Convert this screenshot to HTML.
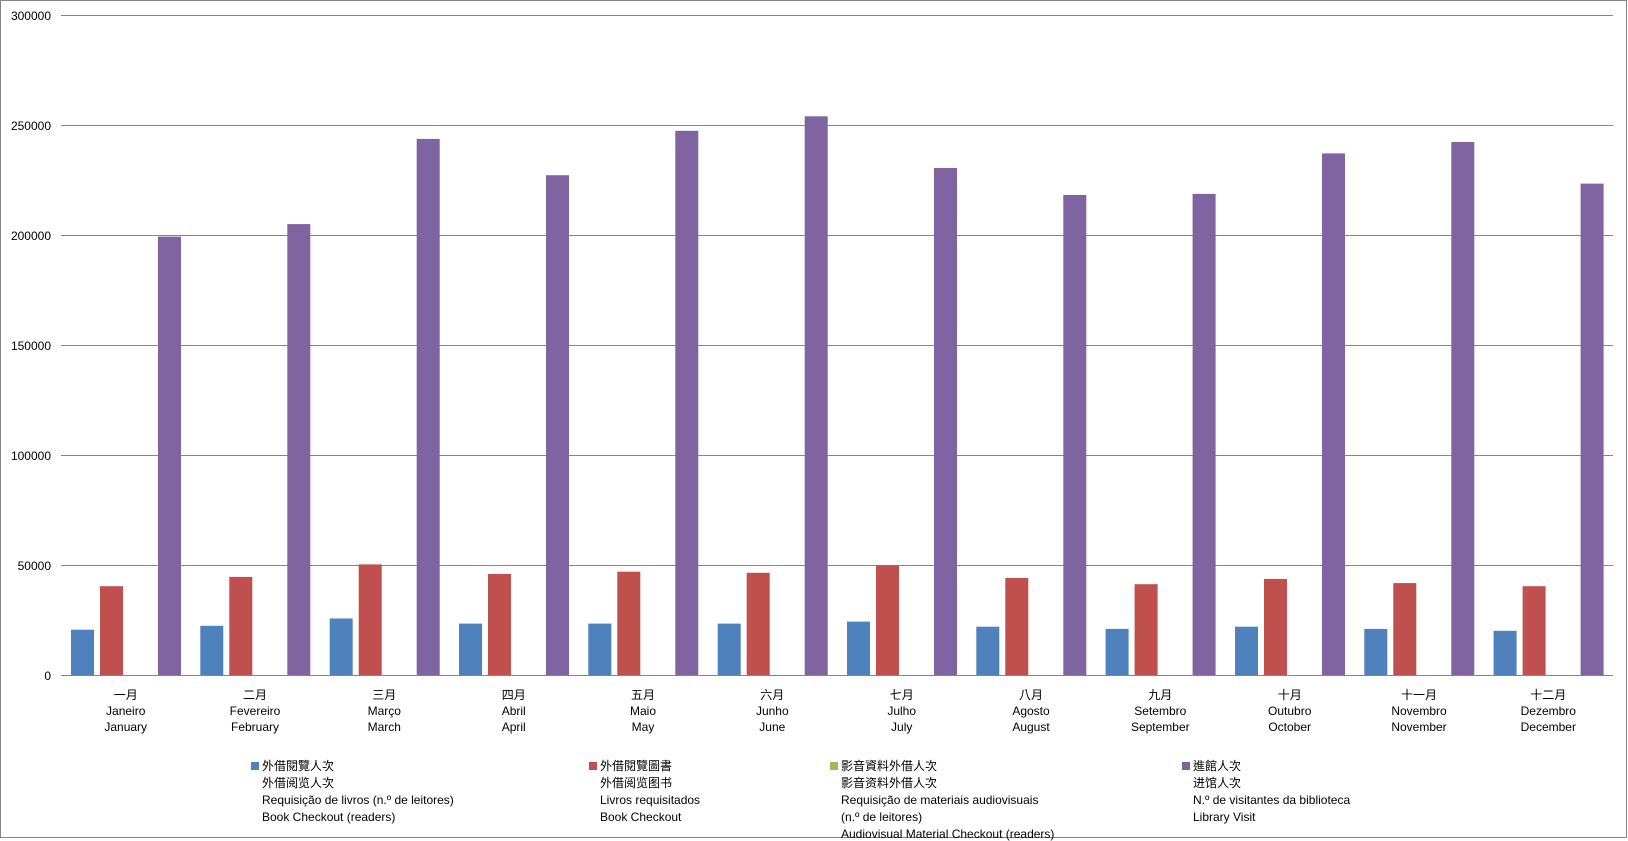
<!DOCTYPE html>
<html><head><meta charset="utf-8"><style>
html,body{margin:0;padding:0;background:#fff;}
svg{display:block;font-family:"Liberation Sans","Noto Sans CJK TC",sans-serif;}
</style></head><body>
<svg id="c" width="1628" height="841" xmlns="http://www.w3.org/2000/svg">
<rect x="0.5" y="0.5" width="1626" height="837" fill="#fff" stroke="#868686"/>
<g stroke="#868686" stroke-width="1">
<line x1="61" y1="15.5" x2="1613" y2="15.5"/>
<line x1="61" y1="125.5" x2="1613" y2="125.5"/>
<line x1="61" y1="235.5" x2="1613" y2="235.5"/>
<line x1="61" y1="345.5" x2="1613" y2="345.5"/>
<line x1="61" y1="455.5" x2="1613" y2="455.5"/>
<line x1="61" y1="565.5" x2="1613" y2="565.5"/>
</g>
<g font-size="12" fill="#000" text-anchor="end">
<text x="51" y="20">300000</text>
<text x="51" y="130">250000</text>
<text x="51" y="240">200000</text>
<text x="51" y="350">150000</text>
<text x="51" y="460">100000</text>
<text x="51" y="570">50000</text>
<text x="51" y="680">0</text>
</g>
<g id="bars"></g>
<line x1="61" y1="675.5" x2="1613" y2="675.5" stroke="#868686"/>
<g font-size="12" fill="#000" text-anchor="middle">
<text x="125.7" y="699">一月</text><text x="125.7" y="715">Janeiro</text><text x="125.7" y="731">January</text>
<text x="255" y="699">二月</text><text x="255" y="715">Fevereiro</text><text x="255" y="731">February</text>
<text x="384.3" y="699">三月</text><text x="384.3" y="715">Março</text><text x="384.3" y="731">March</text>
<text x="513.7" y="699">四月</text><text x="513.7" y="715">Abril</text><text x="513.7" y="731">April</text>
<text x="643" y="699">五月</text><text x="643" y="715">Maio</text><text x="643" y="731">May</text>
<text x="772.3" y="699">六月</text><text x="772.3" y="715">Junho</text><text x="772.3" y="731">June</text>
<text x="901.7" y="699">七月</text><text x="901.7" y="715">Julho</text><text x="901.7" y="731">July</text>
<text x="1031" y="699">八月</text><text x="1031" y="715">Agosto</text><text x="1031" y="731">August</text>
<text x="1160.3" y="699">九月</text><text x="1160.3" y="715">Setembro</text><text x="1160.3" y="731">September</text>
<text x="1289.7" y="699">十月</text><text x="1289.7" y="715">Outubro</text><text x="1289.7" y="731">October</text>
<text x="1419" y="699">十一月</text><text x="1419" y="715">Novembro</text><text x="1419" y="731">November</text>
<text x="1548.3" y="699">十二月</text><text x="1548.3" y="715">Dezembro</text><text x="1548.3" y="731">December</text>
</g>
<g font-size="12" fill="#000">
<rect x="251" y="762" width="8" height="8" fill="#4f81bd"/>
<text x="262" y="770">外借閱覽人次</text><text x="262" y="787">外借阅览人次</text><text x="262" y="804">Requisição de livros (n.º de leitores)</text><text x="262" y="821">Book Checkout (readers)</text>
<rect x="589" y="762" width="8" height="8" fill="#c0504d"/>
<text x="600" y="770">外借閱覽圖書</text><text x="600" y="787">外借阅览图书</text><text x="600" y="804">Livros requisitados</text><text x="600" y="821">Book Checkout</text>
<rect x="830" y="762" width="8" height="8" fill="#9bbb59"/>
<text x="841" y="770">影音資料外借人次</text><text x="841" y="787">影音资料外借人次</text><text x="841" y="804">Requisição de materiais audiovisuais</text><text x="841" y="821">(n.º de leitores)</text><text x="841" y="838">Audiovisual Material Checkout (readers)</text>
<rect x="1182" y="762" width="8" height="8" fill="#8064a2"/>
<text x="1193" y="770">進館人次</text><text x="1193" y="787">进馆人次</text><text x="1193" y="804">N.º de visitantes da biblioteca</text><text x="1193" y="821">Library Visit</text>
</g>
</svg>
<script>
var P=[199500,205200,243900,227400,247600,254200,230700,218400,218900,237300,242500,223600];
var R=[40600,44800,50500,46200,47200,46700,50000,44300,41500,43900,42000,40600];
var B=[20800,22600,25900,23600,23600,23600,24500,22200,21200,22200,21200,20300];
var g=document.getElementById('bars'),s='';
function bar(x,v,c){var h=v*0.0022;s+='<rect x="'+x.toFixed(1)+'" y="'+(675.5-h).toFixed(1)+'" width="23" height="'+h.toFixed(1)+'" fill="'+c+'"/>';}
for(var i=0;i<12;i++){var x0=61+i*129.33;bar(x0+10,B[i],'#4f81bd');bar(x0+39,R[i],'#c0504d');bar(x0+97,P[i],'#8064a2');}
g.innerHTML=s;
</script>
</body></html>
